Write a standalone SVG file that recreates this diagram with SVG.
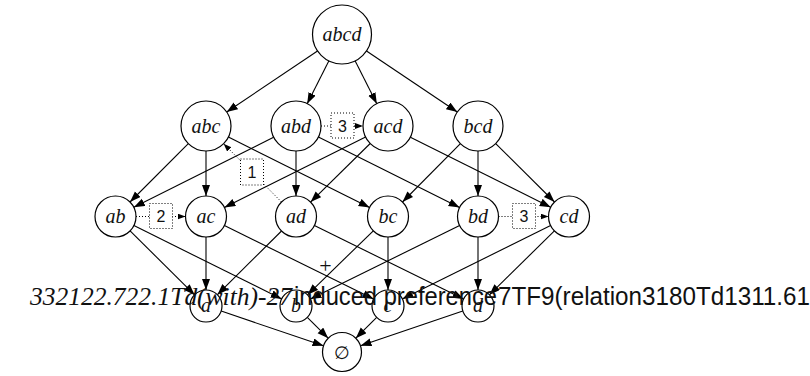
<svg xmlns="http://www.w3.org/2000/svg" width="810" height="376" viewBox="0 0 810 376">
<defs>
<marker id="ah" markerUnits="userSpaceOnUse" markerWidth="12" markerHeight="9" refX="11" refY="4" orient="auto">
<path d="M0,0 L11,4 L0,8 Z" fill="#000"/>
</marker>
<marker id="ahs" markerUnits="userSpaceOnUse" markerWidth="9" markerHeight="7" refX="8" refY="3" orient="auto">
<path d="M0,0 L8,3 L0,6 Z" fill="#000"/>
</marker>
</defs>
<style>
.e{stroke:#000;stroke-width:1.1;fill:none;marker-end:url(#ah)}
.d{stroke:#000;stroke-width:1;fill:none;stroke-dasharray:1 2;marker-end:url(#ahs)}
.n{fill:#fff;stroke:#000;stroke-width:1.2}
.t{font-family:"Liberation Serif","DejaVu Serif",serif;font-style:italic;font-size:20px;text-anchor:middle;fill:#111}
.b{fill:#fff;stroke:#000;stroke-width:1;stroke-dasharray:1 2}
.l{font-family:"Liberation Sans",Arial,sans-serif;font-size:16px;text-anchor:middle;fill:#111}
.g{font-family:"Liberation Sans",Arial,sans-serif;font-size:26px;fill:#111}
</style>
<rect width="810" height="376" fill="#fff"/>
<g id="connectors">
<line class="e" x1="317.5" y1="51" x2="226.7" y2="112"/>
<line class="e" x1="328.8" y1="60.9" x2="307.2" y2="103.7"/>
<line class="e" x1="355.2" y1="60.9" x2="376.8" y2="103.7"/>
<line class="e" x1="366.5" y1="51" x2="457.3" y2="112"/>
<line class="e" x1="188.3" y1="143.7" x2="130" y2="202"/>
<line class="e" x1="206" y1="151" x2="206" y2="196"/>
<line class="e" x1="228.4" y1="137.1" x2="369.6" y2="207.4"/>
<line class="e" x1="273.6" y1="137.2" x2="133.8" y2="207.3"/>
<line class="e" x1="296" y1="151" x2="296" y2="196"/>
<line class="e" x1="318.4" y1="137.1" x2="459.6" y2="207.4"/>
<line class="e" x1="365.6" y1="137.1" x2="224.4" y2="207.4"/>
<line class="e" x1="370.2" y1="143.5" x2="310.6" y2="202.1"/>
<line class="e" x1="410.4" y1="137.2" x2="550.7" y2="207.3"/>
<line class="e" x1="460.4" y1="143.7" x2="402.5" y2="202"/>
<line class="e" x1="478" y1="151" x2="478" y2="196"/>
<line class="e" x1="495.7" y1="143.6" x2="554.5" y2="202"/>
<line class="e" x1="130.1" y1="230.9" x2="194.6" y2="294.8"/>
<line class="e" x1="133.9" y1="225.6" x2="281.7" y2="298.9"/>
<line class="e" x1="206" y1="237" x2="206" y2="290"/>
<line class="e" x1="224.4" y1="225.6" x2="373.6" y2="298.9"/>
<line class="e" x1="281.5" y1="231" x2="217.4" y2="294.7"/>
<line class="e" x1="314.4" y1="225.6" x2="463.6" y2="298.9"/>
<line class="e" x1="373.3" y1="230.8" x2="307.5" y2="294.8"/>
<line class="e" x1="388" y1="237" x2="388" y2="290"/>
<line class="e" x1="459.6" y1="225.6" x2="310.4" y2="298.9"/>
<line class="e" x1="478" y1="237" x2="478" y2="290"/>
<line class="e" x1="550.6" y1="225.6" x2="402.3" y2="298.9"/>
<line class="e" x1="554.4" y1="230.9" x2="489.4" y2="294.8"/>
<line class="e" x1="221.2" y1="311.1" x2="323.5" y2="345.8"/>
<line class="e" x1="307.3" y1="317.3" x2="328.2" y2="338.2"/>
<line class="e" x1="376.7" y1="317.3" x2="355.8" y2="338.2"/>
<line class="e" x1="462.8" y1="311.1" x2="360.5" y2="345.8"/>
<line class="d" x1="321" y1="126" x2="363" y2="126"/>
<line class="d" x1="136" y1="216.5" x2="185.5" y2="216.5"/>
<line class="d" x1="498.5" y1="216.5" x2="548.5" y2="216.5"/>
<line class="d" x1="281.5" y1="202" x2="223.6" y2="143.7"/>
<rect class="b" x="331" y="113" width="23" height="25"/>
<text class="l" x="342.5" y="131.5">3</text>
<rect class="b" x="149.5" y="203.5" width="23" height="25"/>
<text class="l" x="161" y="222">2</text>
<rect class="b" x="512.5" y="203.5" width="23" height="25"/>
<text class="l" x="524" y="222">3</text>
<rect class="b" x="240.5" y="159" width="23" height="26"/>
<text class="l" x="252" y="178">1</text>
</g>
<g id="n-abcd"><circle class="n" cx="342" cy="34.5" r="29.5"/><text class="t" x="342" y="41">abcd</text></g>
<g id="n-abc"><circle class="n" cx="206" cy="126" r="25"/><text class="t" x="206" y="132.5">abc</text></g>
<g id="n-abd"><circle class="n" cx="296" cy="126" r="25"/><text class="t" x="296" y="132.5">abd</text></g>
<g id="n-acd"><circle class="n" cx="388" cy="126" r="25"/><text class="t" x="388" y="132.5">acd</text></g>
<g id="n-bcd"><circle class="n" cx="478" cy="126" r="25"/><text class="t" x="478" y="132.5">bcd</text></g>
<g id="n-ab"><circle class="n" cx="115.5" cy="216.5" r="20.5"/><text class="t" x="115.5" y="223">ab</text></g>
<g id="n-ac"><circle class="n" cx="206" cy="216.5" r="20.5"/><text class="t" x="206" y="223">ac</text></g>
<g id="n-ad"><circle class="n" cx="296" cy="216.5" r="20.5"/><text class="t" x="296" y="223">ad</text></g>
<g id="n-bc"><circle class="n" cx="388" cy="216.5" r="20.5"/><text class="t" x="388" y="223">bc</text></g>
<g id="n-bd"><circle class="n" cx="478" cy="216.5" r="20.5"/><text class="t" x="478" y="223">bd</text></g>
<g id="n-cd"><circle class="n" cx="569" cy="216.5" r="20.5"/><text class="t" x="569" y="223">cd</text></g>
<g id="n-a"><circle class="n" cx="206" cy="306" r="16"/><text class="t" x="206" y="312">a</text></g>
<g id="n-b"><circle class="n" cx="296" cy="306" r="16"/><text class="t" x="296" y="312">b</text></g>
<g id="n-c"><circle class="n" cx="388" cy="306" r="16"/><text class="t" x="388" y="312">c</text></g>
<g id="n-d"><circle class="n" cx="478" cy="306" r="16"/><text class="t" x="478" y="312">d</text></g>
<g id="n-empty"><circle class="n" cx="342" cy="352" r="19.5"/><text x="342" y="358.5" text-anchor="middle" font-family="DejaVu Serif, Liberation Serif, serif" font-size="18" fill="#111">∅</text></g>
<text x="325.5" y="272.5" text-anchor="middle" font-family="Liberation Serif, serif" font-size="22" fill="#111">+</text>
<text x="30" y="305" font-family="Liberation Serif, serif" font-style="italic" font-size="25" fill="#111" textLength="262" lengthAdjust="spacingAndGlyphs">332122.722.1Td(with)-27</text>
<text class="g" x="294" y="305" textLength="203" lengthAdjust="spacingAndGlyphs">induced preference</text>
<text class="g" x="498" y="305" textLength="312" lengthAdjust="spacingAndGlyphs">7TF9(relation3180Td1311.61</text>
</svg>
